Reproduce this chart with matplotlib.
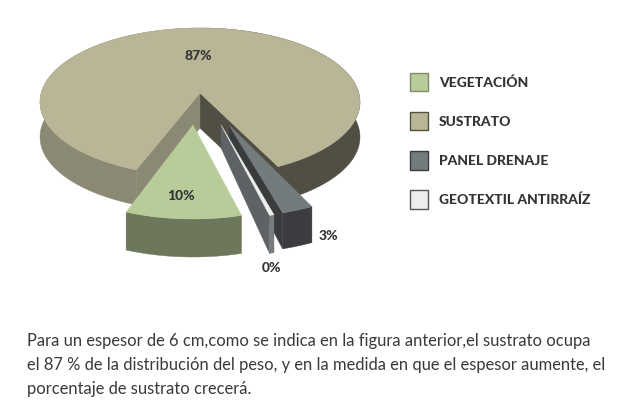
import numpy as np
import matplotlib
matplotlib.use('Agg')
import matplotlib.pyplot as plt
from matplotlib.patches import Patch, Polygon

# data, in drawing order around the pie
categories = ['VEGETACIÓN', 'GEOTEXTIL ANTIRRAÍZ', 'PANEL DRENAJE', 'SUSTRATO']
shares = [10.0, 0.4, 2.7, 86.9]
legend_order = ['VEGETACIÓN', 'SUSTRATO', 'PANEL DRENAJE', 'GEOTEXTIL ANTIRRAÍZ']
body_lines = ['Para un espesor de 6 cm,como se indica en la figura anterior,el sustrato ocupa',
              'el 87 % de la distribución del peso, y en la medida en que el espesor aumente, el',
              'porcentaje de sustrato crecerá.']

START_ANGLE = -21  # degrees from straight down, growing towards the right
APEX_SHIFT = -0.12  # fake perspective, apex sits behind the ellipse centre

# style per slice: ellipse centre, radii, depth at rim and at apex, colours
style = {
    'VEGETACIÓN': dict(c=(193, 135), r=(168, 84), d=(38, 38), top='#b7cc99', side='#6c775b', wall=None,
                       edge='#7f8c6c', label=(181, 196)),
    'GEOTEXTIL ANTIRRAÍZ': dict(c=(221, 135), r=(168, 84), d=(38, 23), top='#ededed', side='#777c7e', wall='#5d6264',
                                edge='#555555', label=(272, 268)),
    'PANEL DRENAJE': dict(c=(229, 135), r=(170, 82), d=(36, 23), top='#747b7c', side='#3b3c3f', wall='#3a3b3d',
                          edge='#3b3c3f', label=(328, 236)),
    'SUSTRATO': dict(c=(200, 102), r=(160, 74), d=(35, 35), top='#b9b597', side='#514f44', wall=None,
                     edge='#55523f', label=(198, 56)),
}


def rim(phi):
    # ray from the shifted apex to the unit circle, relative to the circle centre
    phi = np.radians(phi)
    dx, dy = np.sin(phi), np.cos(phi)
    b = APEX_SHIFT * dy
    t = -b + np.sqrt(b ** 2 + 1 - APEX_SHIFT ** 2)
    return t * dx, APEX_SHIFT + t * dy


def to_px(st, x, y):
    return np.column_stack([st['c'][0] + st['r'][0] * x, st['c'][1] + st['r'][1] * y])


def draw_band(ax, st, a1, a2, color, zorder):
    x, y = rim(np.linspace(a1, a2, 120))
    upper = to_px(st, x, y)
    lower = upper + [0, st['d'][0]]
    ax.add_patch(Polygon(np.vstack([upper, lower[::-1]]), fc=color, ec=color, lw=0.3, zorder=zorder))


def draw_wall(ax, st, phi, color, zorder):
    apex = to_px(st, np.array([0.0]), np.array([APEX_SHIFT]))
    x, y = rim(np.array([float(phi)]))
    outer = to_px(st, x, y)
    pts = np.vstack([apex, outer, outer + [0, st['d'][0]], apex + [0, st['d'][1]]])
    ax.add_patch(Polygon(pts, fc=color, ec=color, lw=0.3, zorder=zorder))


def draw_top(ax, st, a1, a2, zorder):
    x, y = rim(np.linspace(a1, a2, 360))
    apex = to_px(st, np.array([0.0]), np.array([APEX_SHIFT]))
    ax.add_patch(Polygon(np.vstack([apex, to_px(st, x, y)]), fc=st['top'], ec=st['top'], lw=0.3, zorder=zorder))


plt.rcParams['font.family'] = ['Lato', 'DejaVu Sans']
fig = plt.figure(figsize=(6.18, 4.04), dpi=100)
ax = fig.add_axes([0, 0, 1, 1])
ax.set_xlim(0, 618)
ax.set_ylim(404, 0)
ax.axis('off')

angles = START_ANGLE + np.cumsum([0] + [s * 3.6 for s in shares])
bounds = dict(zip(categories, zip(angles[:-1], angles[1:])))

# main slice first, everything else sits in front of it
a1, a2 = bounds['SUSTRATO']
st = style['SUSTRATO']
draw_band(ax, st, a1, 180, st['side'], 1)
draw_band(ax, st, 180, a2, '#8b8873', 1)
draw_wall(ax, st, a1, st['side'], 2)
draw_wall(ax, st, a2, '#8b8873', 2)
draw_top(ax, st, a1, a2, 3)

# pulled out slices, back to front
for name, z in [('PANEL DRENAJE', 4), ('GEOTEXTIL ANTIRRAÍZ', 6), ('VEGETACIÓN', 8)]:
    a1, a2 = bounds[name]
    st = style[name]
    if st['wall']:
        draw_wall(ax, st, a1, st['wall'], z)
    draw_band(ax, st, a1, a2, st['side'], z + 0.5)
    draw_top(ax, st, a1, a2, z + 1)

for name, share in zip(categories, shares):
    ax.text(*style[name]['label'], f'{share:.0f}%', weight='black', fontsize=10,
            color='#333333', ha='center', va='center', zorder=20)

handles = [Patch(fc=style[n]['top'], ec=style[n]['edge'], lw=1) for n in legend_order]
ax.legend(handles, legend_order, loc='upper left', bbox_to_anchor=(410, 73), bbox_transform=ax.transData,
          frameon=False, borderpad=0, borderaxespad=0, handlelength=1.3, handleheight=1.65, handletextpad=0.8,
          labelspacing=1.5, prop={'weight': 'black', 'size': 10}, labelcolor='#333333')

for line, y in zip(body_lines, [341, 365, 389]):
    ax.text(27, y, line, fontsize=11.9, color='#3a3a3a', ha='left', va='center')

fig.savefig('out.png', dpi=100)
